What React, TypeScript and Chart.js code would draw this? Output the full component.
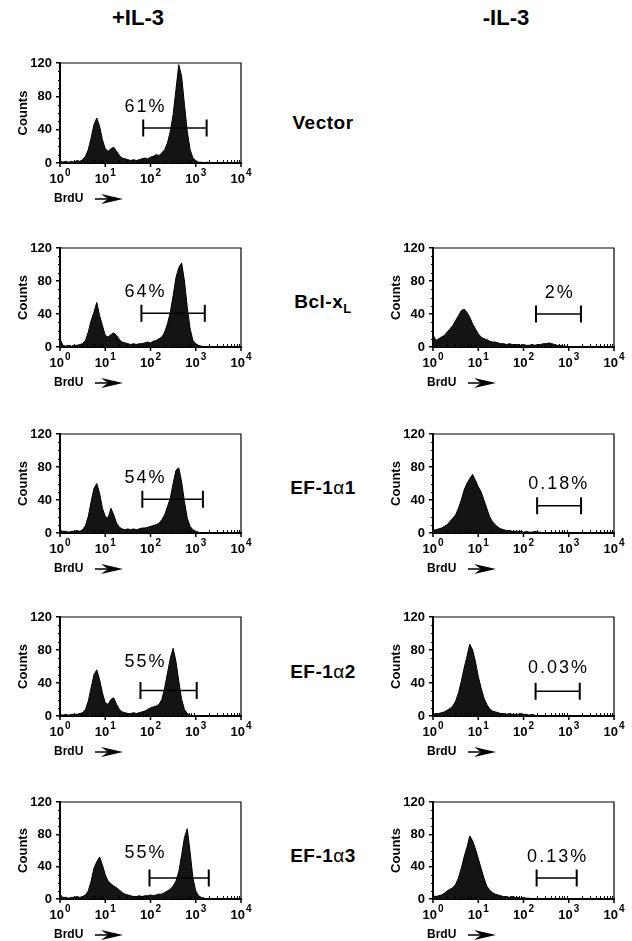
import React, { useEffect, useRef } from 'react';
import { Chart, registerables } from 'chart.js';

Chart.register(...registerables);

// Histogram channels: 1/16-decade bins from 10^0 to 10^4 (65 channels)
const BIN_CENTERS = Array.from({ length: 65 }, (_, i) => Math.pow(10, i / 16));

// +IL-3 column (counts per channel)
const VECTOR_PLUS = [
  3, 1, 2, 1, 2, 1, 3, 2, 4, 8,
  16, 30, 46, 54, 44, 28, 17, 14, 17, 19,
  14, 9, 6, 5, 4, 3, 4, 3, 4, 5,
  6, 5, 7, 8, 10, 9, 12, 16, 24, 38,
  58, 88, 118, 104, 70, 38, 16, 6, 3, 1,
  1, 0, 1, 0, 0, 0, 0, 0, 0, 0,
  0, 0, 0, 0, 0,
];
const BCL_PLUS = [
  10, 2, 1, 2, 1, 2, 2, 3, 4, 8,
  18, 32, 42, 54, 38, 26, 14, 12, 15, 17,
  14, 9, 6, 5, 4, 3, 4, 3, 4, 4,
  5, 6, 5, 7, 8, 10, 12, 18, 28, 42,
  62, 84, 96, 102, 80, 48, 22, 8, 4, 2,
  1, 0, 0, 0, 0, 0, 0, 0, 0, 0,
  0, 0, 0, 0, 0,
];
const EF1_PLUS = [
  3, 2, 2, 1, 2, 2, 3, 2, 4, 9,
  20, 38, 54, 60, 48, 30, 20, 18, 30, 22,
  12, 7, 5, 4, 5, 4, 5, 4, 5, 6,
  6, 7, 8, 9, 10, 12, 16, 22, 32, 42,
  60, 76, 79, 62, 38, 18, 8, 4, 2, 1,
  0, 0, 0, 0, 0, 0, 0, 0, 0, 0,
  0, 0, 0, 0, 0,
];
const EF2_PLUS = [
  2, 1, 2, 1, 2, 2, 2, 3, 4, 8,
  18, 34, 50, 56, 44, 28, 16, 14, 20, 22,
  14, 8, 5, 4, 3, 3, 4, 3, 4, 5,
  6, 8, 10, 11, 12, 14, 20, 34, 52, 70,
  82, 66, 42, 20, 8, 3, 1, 0, 0, 0,
  0, 0, 0, 0, 0, 0, 0, 0, 0, 0,
  0, 0, 0, 0, 0,
];
const EF3_PLUS = [
  6, 2, 2, 1, 2, 2, 3, 2, 3, 5,
  10, 22, 38, 46, 52, 42, 30, 22, 19, 16,
  14, 11, 8, 6, 5, 4, 3, 3, 4, 3,
  4, 4, 5, 4, 5, 6, 6, 8, 10, 12,
  16, 22, 34, 54, 76, 87, 58, 26, 10, 4,
  2, 1, 0, 0, 0, 0, 0, 0, 0, 0,
  0, 0, 0, 0, 0,
];

// -IL-3 column
const BCL_MINUS = [
  15, 8, 10, 12, 14, 18, 22, 26, 32, 38,
  44, 46, 42, 36, 28, 22, 16, 12, 10, 9,
  7, 6, 6, 5, 4, 4, 3, 4, 3, 3,
  3, 2, 3, 2, 2, 3, 2, 3, 3, 4,
  4, 5, 4, 3, 2, 2, 1, 1, 0, 0,
  0, 0, 0, 0, 0, 0, 0, 0, 0, 0,
  0, 0, 0, 0, 0,
];
const EF1_MINUS = [
  3, 4, 5, 6, 8, 10, 14, 18, 22, 30,
  40, 52, 60, 66, 71, 64, 56, 50, 40, 30,
  20, 14, 10, 7, 5, 4, 3, 3, 2, 2,
  2, 2, 1, 2, 1, 1, 2, 1, 1, 0,
  0, 0, 0, 0, 0, 0, 0, 0, 0, 0,
  0, 0, 0, 0, 0, 0, 0, 0, 0, 0,
  0, 0, 0, 0, 0,
];
const EF2_MINUS = [
  2, 3, 3, 4, 5, 7, 9, 12, 18, 28,
  42, 58, 72, 87, 80, 66, 48, 34, 22, 14,
  9, 6, 5, 4, 3, 3, 2, 3, 2, 2,
  2, 3, 2, 2, 1, 2, 1, 0, 0, 0,
  0, 0, 0, 0, 0, 0, 0, 0, 0, 0,
  0, 0, 0, 0, 0, 0, 0, 0, 0, 0,
  0, 0, 0, 0, 0,
];
const EF3_MINUS = [
  4, 3, 4, 5, 7, 10, 12, 14, 18, 26,
  38, 52, 64, 78, 72, 62, 50, 38, 26, 16,
  11, 8, 6, 5, 4, 3, 3, 2, 3, 2,
  2, 1, 2, 1, 1, 0, 0, 0, 0, 0,
  0, 0, 0, 0, 0, 0, 0, 0, 0, 0,
  0, 0, 0, 0, 0, 0, 0, 0, 0, 0,
  0, 0, 0, 0, 0,
];

const COLUMN_TITLES = ['+IL-3', '-IL-3'];
const ROW_LABELS = ['Vector', 'Bcl-x', 'EF-1', 'EF-1', 'EF-1'];
const ROW_LABEL_GREEK = ['', '', 'α', 'α', 'α'];
const ROW_LABEL_SUFFIX = ['', 'L', '1', '2', '3'];

const PLUS_SERIES = [VECTOR_PLUS, BCL_PLUS, EF1_PLUS, EF2_PLUS, EF3_PLUS];
const MINUS_SERIES = [null, BCL_MINUS, EF1_MINUS, EF2_MINUS, EF3_MINUS];

const PCT_PLUS = ['61%', '64%', '54%', '55%', '55%'];
const PCT_X_PLUS = [74, 74, 74, 74, 74];
const PCT_Y_PLUS = [67, 67, 67, 65, 57];
const GATE_LO_PLUS = [69, 63, 66, 60, 95];
const GATE_HI_PLUS = [1740, 1585, 1440, 1050, 1940];
const GATE_Y_PLUS = [42, 41, 41, 31, 26];

const PCT_MINUS = ['', '2%', '0.18%', '0.03%', '0.13%'];
const PCT_X_MINUS = [0, 600, 570, 565, 540];
const PCT_Y_MINUS = [0, 66, 59, 58, 52];
const GATE_LO_MINUS = [0, 189, 200, 185, 195];
const GATE_HI_MINUS = [0, 1860, 1870, 1750, 1500];
const GATE_Y_MINUS = [0, 40, 33, 30, 26];

const Y_MIN = 0;
const Y_MAX = 120;
const Y_STEP = 40;
const X_MIN = 1;
const X_MAX = 10000;
const X_TICK_VALUES = [1, 10, 100, 1000, 10000];
const X_TICK_BASE = '10';
const X_TICK_EXPONENTS = ['0', '1', '2', '3', '4'];
const X_TITLE = 'BrdU';
const Y_TITLE = 'Counts';

// layout
const FONT = '"Liberation Sans", Arial, Helvetica, sans-serif';
const PLOT_W = 181;
const COL_LEFT = [60, 433];
const ROW_TOP = [63, 248, 434, 617, 802];
const ROW_H = [100, 99, 99, 99, 97];
const AXIS_W = 60;
const PAD_T = 12;
const PAD_R = 12;
const AXIS_H = 46;

type PanelProps = {
  plotLeft: number;
  plotTop: number;
  plotH: number;
  values: number[];
  pct: string;
  pctX: number;
  pctY: number;
  gateLo: number;
  gateHi: number;
  gateY: number;
};

function Panel(p: PanelProps) {
  const ref = useRef<HTMLCanvasElement>(null);
  const W = AXIS_W + PLOT_W + PAD_R;
  const H = PAD_T + p.plotH + AXIS_H;

  useEffect(() => {
    const decor = {
      id: 'decor',
      afterDraw(chart: any) {
        const { ctx, chartArea: a, scales } = chart;
        const x = scales.x;
        const y = scales.y;
        ctx.save();
        ctx.strokeStyle = '#000';
        ctx.fillStyle = '#000';
        // top + right frame
        ctx.lineWidth = 1.2;
        ctx.beginPath();
        ctx.moveTo(a.left, a.top);
        ctx.lineTo(a.right, a.top);
        ctx.lineTo(a.right, a.bottom);
        ctx.stroke();
        // minor x ticks (inside)
        ctx.lineWidth = 1;
        for (let d = 0; d < X_TICK_VALUES.length - 1; d++) {
          for (let k = 2; k <= 9; k++) {
            const px = Math.round(x.getPixelForValue(k * X_TICK_VALUES[d])) + 0.5;
            ctx.beginPath();
            ctx.moveTo(px, a.bottom);
            ctx.lineTo(px, a.bottom - 3);
            ctx.stroke();
          }
        }
        // major x ticks (outside)
        ctx.lineWidth = 1.5;
        X_TICK_VALUES.forEach((v) => {
          const px = x.getPixelForValue(v);
          ctx.beginPath();
          ctx.moveTo(px, a.bottom);
          ctx.lineTo(px, a.bottom + 4);
          ctx.stroke();
        });
        // minor y ticks
        ctx.lineWidth = 1;
        for (let v = Y_MIN + 10; v < Y_MAX; v += 10) {
          if (v % Y_STEP === 0) continue;
          const py = Math.round(y.getPixelForValue(v)) + 0.5;
          ctx.beginPath();
          ctx.moveTo(a.left - 2, py);
          ctx.lineTo(a.left, py);
          ctx.stroke();
        }
        // x tick labels 10^n
        ctx.textBaseline = 'alphabetic';
        ctx.textAlign = 'left';
        X_TICK_VALUES.forEach((v, i) => {
          const px = x.getPixelForValue(v);
          ctx.font = `bold 13px ${FONT}`;
          const w1 = ctx.measureText(X_TICK_BASE).width;
          ctx.font = `bold 10px ${FONT}`;
          const w2 = ctx.measureText(X_TICK_EXPONENTS[i]).width;
          const start = px - (w1 + w2 + 1) / 2;
          ctx.font = `bold 13px ${FONT}`;
          ctx.fillText(X_TICK_BASE, start, a.bottom + 20);
          ctx.font = `bold 10px ${FONT}`;
          ctx.fillText(X_TICK_EXPONENTS[i], start + w1 + 1, a.bottom + 13);
        });
        // axis title with arrow
        const ty = a.bottom + 36;
        ctx.font = `bold 12px ${FONT}`;
        ctx.textBaseline = 'middle';
        ctx.fillText(X_TITLE, a.left - 6, ty);
        const ax0 = a.left + 35;
        const tip = a.left + 63;
        ctx.lineWidth = 1.5;
        ctx.beginPath();
        ctx.moveTo(ax0, ty);
        ctx.lineTo(tip - 14, ty);
        ctx.stroke();
        ctx.beginPath();
        ctx.moveTo(tip, ty);
        ctx.lineTo(tip - 22, ty - 5);
        ctx.lineTo(tip - 15, ty);
        ctx.lineTo(tip - 22, ty + 5);
        ctx.closePath();
        ctx.fill();
        // gate marker
        if (p.pct) {
          const gx0 = x.getPixelForValue(p.gateLo);
          const gx1 = x.getPixelForValue(p.gateHi);
          const gy = y.getPixelForValue(p.gateY);
          ctx.lineWidth = 1.5;
          ctx.beginPath();
          ctx.moveTo(gx0, gy);
          ctx.lineTo(gx1, gy);
          ctx.stroke();
          ctx.lineWidth = 2;
          ctx.beginPath();
          ctx.moveTo(gx0, gy - 8.5);
          ctx.lineTo(gx0, gy + 8.5);
          ctx.moveTo(gx1, gy - 8.5);
          ctx.lineTo(gx1, gy + 8.5);
          ctx.stroke();
          ctx.font = `18px ${FONT}`;
          ctx.textAlign = 'center';
          ctx.textBaseline = 'middle';
          try { (ctx as any).letterSpacing = '2px'; } catch (e) { /* ignore */ }
          ctx.fillText(p.pct, x.getPixelForValue(p.pctX) + 1, y.getPixelForValue(p.pctY));
          try { (ctx as any).letterSpacing = '0px'; } catch (e) { /* ignore */ }
        }
        ctx.restore();
      },
    };

    const chart = new Chart(ref.current as HTMLCanvasElement, {
      type: 'line',
      data: {
        datasets: [
          {
            data: p.values.map((v, i) => ({ x: BIN_CENTERS[i], y: v })),
            fill: 'origin',
            backgroundColor: '#141414',
            borderColor: '#000',
            borderWidth: 1,
            pointRadius: 0,
            tension: 0,
          },
        ],
      },
      options: {
        animation: false,
        responsive: false,
        maintainAspectRatio: false,
        events: [],
        layout: { padding: { top: PAD_T, right: PAD_R, left: 0, bottom: 0 } },
        plugins: { legend: { display: false }, tooltip: { enabled: false } },
        scales: {
          x: {
            type: 'logarithmic',
            min: X_MIN,
            max: X_MAX,
            afterFit: (s: any) => { s.height = AXIS_H; },
            ticks: { display: false },
            grid: { display: false },
            border: { display: true, color: '#000', width: 2 },
          },
          y: {
            min: Y_MIN,
            max: Y_MAX,
            afterFit: (s: any) => { s.width = AXIS_W; },
            ticks: {
              stepSize: Y_STEP,
              color: '#000',
              padding: 4,
              font: { family: FONT, weight: 'bold', size: 13 },
            },
            grid: { drawOnChartArea: false, drawTicks: true, tickLength: 4, color: '#000', lineWidth: 1.5 },
            border: { display: true, color: '#000', width: 2 },
            title: {
              display: true,
              text: Y_TITLE,
              color: '#000',
              font: { family: FONT, weight: 'bold', size: 13 },
              padding: { top: 16, bottom: 0 },
            },
          },
        },
      } as any,
      plugins: [decor],
    });
    return () => chart.destroy();
  }, []);

  return (
    <canvas
      ref={ref}
      width={W}
      height={H}
      style={{ position: 'absolute', left: p.plotLeft - AXIS_W, top: p.plotTop - PAD_T, width: W, height: H }}
    />
  );
}

const ROW_LABEL_Y = [123, 302, 488, 672, 856];
const ROW_LABEL_X = 323;
const TITLE_X = [138, 506];
const TITLE_Y = 18;

export default function App() {
  return (
    <div
      style={{
        position: 'absolute',
        left: 0,
        top: 0,
        width: 632,
        height: 941,
        background: '#fff',
        overflow: 'hidden',
        fontFamily: FONT,
        color: '#000',
      }}
    >
      {COLUMN_TITLES.map((t, i) => (
        <div
          key={t}
          style={{
            position: 'absolute',
            left: TITLE_X[i] - 60,
            top: TITLE_Y - 13,
            width: 120,
            lineHeight: '26px',
            textAlign: 'center',
            fontWeight: 'bold',
            fontSize: 22,
          }}
        >
          {t}
        </div>
      ))}
      {ROW_LABELS.map((t, i) => (
        <div
          key={'r' + i}
          style={{
            position: 'absolute',
            left: ROW_LABEL_X - 60,
            top: ROW_LABEL_Y[i] - 11,
            width: 120,
            lineHeight: '22px',
            textAlign: 'center',
            fontWeight: 'bold',
            fontSize: 19,
            letterSpacing: 0.5,
            whiteSpace: 'nowrap',
          }}
        >
          {t}
          {ROW_LABEL_GREEK[i] ? <span style={{ fontWeight: 'normal' }}>{ROW_LABEL_GREEK[i]}</span> : null}
          {i === 1 ? (
            <sub style={{ fontSize: 13, verticalAlign: 'baseline', position: 'relative', top: 5 }}>{ROW_LABEL_SUFFIX[i]}</sub>
          ) : (
            ROW_LABEL_SUFFIX[i]
          )}
        </div>
      ))}
      {PLUS_SERIES.map((vals, r) => (
        <Panel
          key={'p' + r}
          plotLeft={COL_LEFT[0]}
          plotTop={ROW_TOP[r]}
          plotH={ROW_H[r]}
          values={vals}
          pct={PCT_PLUS[r]}
          pctX={PCT_X_PLUS[r]}
          pctY={PCT_Y_PLUS[r]}
          gateLo={GATE_LO_PLUS[r]}
          gateHi={GATE_HI_PLUS[r]}
          gateY={GATE_Y_PLUS[r]}
        />
      ))}
      {MINUS_SERIES.map((vals, r) =>
        vals ? (
          <Panel
            key={'m' + r}
            plotLeft={COL_LEFT[1]}
            plotTop={ROW_TOP[r]}
            plotH={ROW_H[r]}
            values={vals}
            pct={PCT_MINUS[r]}
            pctX={PCT_X_MINUS[r]}
            pctY={PCT_Y_MINUS[r]}
            gateLo={GATE_LO_MINUS[r]}
            gateHi={GATE_HI_MINUS[r]}
            gateY={GATE_Y_MINUS[r]}
          />
        ) : null
      )}
    </div>
  );
}
